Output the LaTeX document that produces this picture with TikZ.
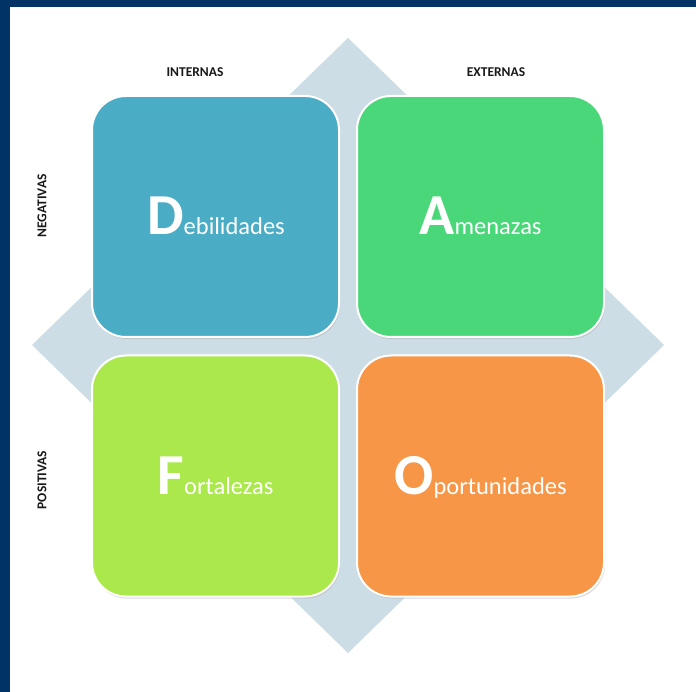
\documentclass[tikz,border=0pt]{standalone}
\usepackage{fontspec}
\setmainfont{Carlito}
\usetikzlibrary{shadows}
\definecolor{marco}{HTML}{003366}
\definecolor{rombo}{HTML}{CCDDE6}
\definecolor{colD}{HTML}{4BACC6}
\definecolor{colA}{HTML}{4AD77A}
\definecolor{colF}{HTML}{AAE84C}
\definecolor{colO}{HTML}{F79646}

\begin{document}
\begin{tikzpicture}[x=1pt,y=-1pt,
    caja/.style={rectangle,rounded corners=34pt,draw=white,line width=2pt,
      minimum width=247pt,minimum height=241pt,inner sep=0pt,
      drop shadow={shadow xshift=1pt,shadow yshift=-2pt,fill=black!30,opacity=.5}},
    titulo/.style={anchor=base,text=white,inner sep=0pt},
    eje/.style={font=\fontsize{13.5}{13.5}\selectfont\bfseries,text=black!90,inner sep=0pt}]
            \useasboundingbox (0,0) rectangle (696,692);
            \fill[white] (0,0) rectangle (696,692);
            \fill[marco] (0,0) rectangle (10,692);
            \fill[marco] (0,0) rectangle (696,7);
            \fill[rombo] (348,38)--(664,345)--(348,653)--(32,345)--cycle;
            \node[caja,fill=colD] (debil) at (215.5,216.5) {};
            \node[caja,fill=colA] (amen) at (480.5,216.5) {};
            \node[caja,fill=colF] (fort) at (215.5,476) {};
            \node[caja,fill=colO] (oport) at (480.5,476) {};
            \node[titulo] (tD) at (216,235) {{\fontsize{58}{58}\selectfont\bfseries D}{\fontsize{24.5}{24.5}\selectfont ebilidades}};
            \node[titulo] (tA) at (480.5,235) {{\fontsize{58}{58}\selectfont\bfseries A}{\fontsize{24.5}{24.5}\selectfont menazas}};
            \node[titulo] (tF) at (215.5,494) {{\fontsize{58}{58}\selectfont\bfseries F}{\fontsize{24.5}{24.5}\selectfont ortalezas}};
            \node[titulo] (tO) at (480.5,494) {{\fontsize{58}{58}\selectfont\bfseries O}{\fontsize{24.5}{24.5}\selectfont portunidades}};
            \node[eje] (intern) at (195,72) {INTERNAS};
            \node[eje] (extern) at (496,72) {EXTERNAS};
            \node[eje,rotate=90] (negat) at (42,206) {NEGATIVAS};
            \node[eje,rotate=90] (posit) at (42,480) {POSITIVAS};
        \end{tikzpicture}
\end{document}
